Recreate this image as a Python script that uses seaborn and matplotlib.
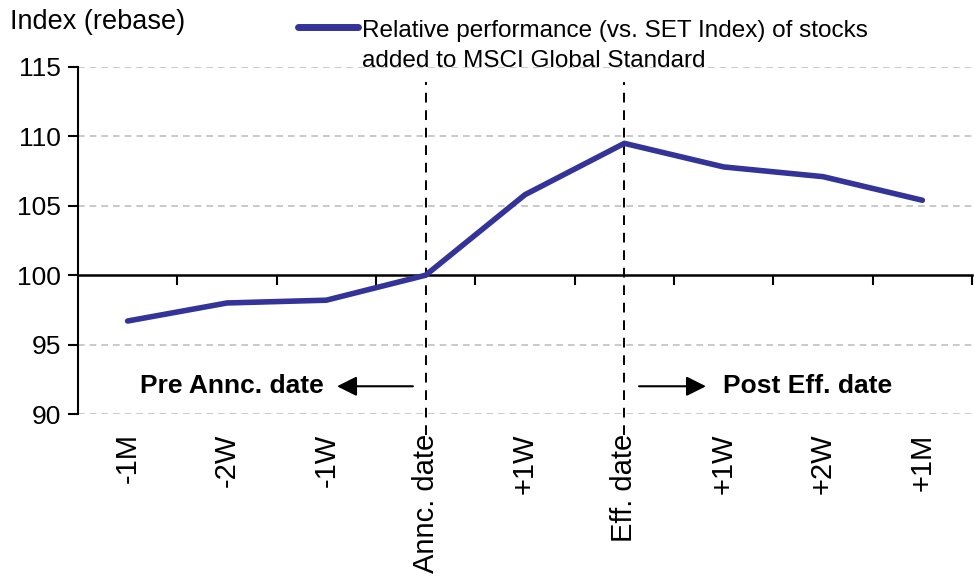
import pandas as pd
import matplotlib.pyplot as plt
import seaborn as sns
from matplotlib.lines import Line2D

# data
periods = ["-1M", "-2W", "-1W", "Annc. date", "+1W", "Eff. date", "+1W", "+2W", "+1M"]
rel_perf = [96.7, 98.0, 98.2, 100.0, 105.8, 109.5, 107.8, 107.1, 105.4]
y_ticks = [90, 95, 100, 105, 110, 115]
series_name = "Relative performance (vs. SET Index) of stocks\nadded to MSCI Global Standard"

sns.set_theme(style="white")
plt.rcParams['font.family'] = ['Liberation Sans', 'DejaVu Sans']
plt.rcParams['text.color'] = 'black'
plt.rcParams['xtick.color'] = 'black'
plt.rcParams['ytick.color'] = 'black'

line_color = "#333399"
data = pd.DataFrame({"pos": range(len(periods)), "value": rel_perf})

fig = plt.figure(figsize=(9.74, 5.76), dpi=100)
ax = fig.add_axes([0.080, 0.2812, 0.918, 0.6025])

# gray dashed grid (100 is covered by the axis line)
for y in y_ticks:
    if y != 100:
        ax.axhline(y, color="#c0c0c0", linestyle=(0, (4, 3)), linewidth=1.2, zorder=0)

sns.lineplot(data=data, x="pos", y="value", color=line_color, linewidth=4,
             ax=ax, zorder=3, legend=False)

ax.set_xlim(-0.5, len(periods) - 0.5)
ax.set_ylim(90, 115)
ax.set_yticks(y_ticks)
ax.set_xticks(range(len(periods)))
ax.set_xticklabels(periods, rotation=90, va="top")
ax.tick_params(axis="x", length=0, pad=14, labelsize=21)
ax.tick_params(axis="y", length=7, width=1.5, direction="out", left=True,
               labelsize=19, pad=5)
ax.set_xlabel("")
ax.set_ylabel("")
for side in ["top", "right", "bottom"]:
    ax.spines[side].set_visible(False)
ax.spines["left"].set_color("black")
ax.spines["left"].set_linewidth(1.5)

# category axis crossing at 100 with ticks between categories
sec = ax.secondary_xaxis((100 - 90) / 25)
sec.set_xticks([i + 0.5 for i in range(len(periods))])
sec.set_xticklabels([])
sec.tick_params(axis="x", length=7, width=1.5, direction="out")
sec.spines["bottom"].set_color("black")
sec.spines["bottom"].set_linewidth(1.8)

# event markers
for x in [3, 5]:
    ax.plot([x, x], [-0.06, 0.957], transform=ax.get_xaxis_transform(),
            color="black", linestyle=(0, (5, 4)), linewidth=1.4, clip_on=False, zorder=2)

arrow = dict(arrowstyle="-|>", color="black", lw=1.5, mutation_scale=30)
ax.annotate("", xy=(2.08, 92.0), xytext=(2.9, 92.0), arrowprops=arrow)
ax.text(1.97, 92.0, "Pre Annc. date", ha="right", va="center",
        fontsize=19, fontweight="bold")
ax.annotate("", xy=(5.85, 92.0), xytext=(5.12, 92.0), arrowprops=arrow)
ax.text(5.99, 92.0, "Post Eff. date", ha="left", va="center",
        fontsize=19, fontweight="bold")

fig.text(0.010, 0.962, "Index (rebase)", fontsize=19.5, va="center", ha="left")

# legend at the top, handle aligned with the first text line
fig.add_artist(Line2D([298 / 974, 358 / 974], [1 - 27 / 576, 1 - 27 / 576],
                      color=line_color, linewidth=5, solid_capstyle="round"))
fig.text(362 / 974, 1 - 20 / 576, series_name, fontsize=17.5, va="top", ha="left",
         linespacing=1.45)

fig.savefig("out.png", dpi=100)
